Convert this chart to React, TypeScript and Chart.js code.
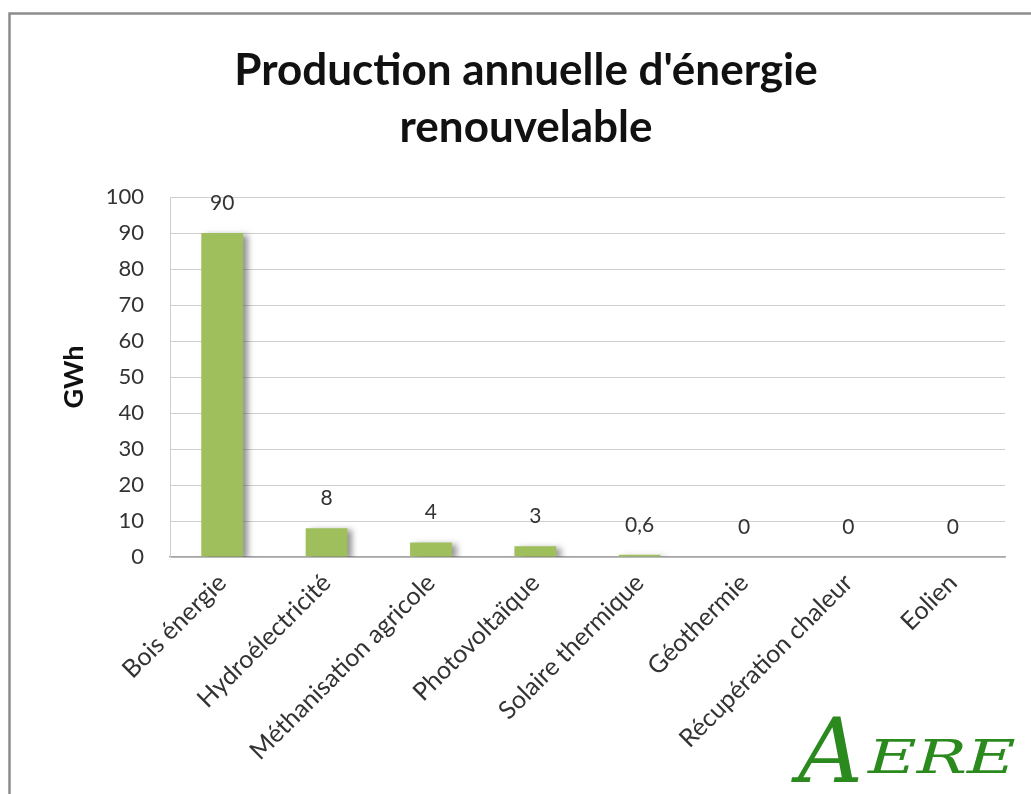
import React, { useEffect, useRef } from "react";
import { Chart, registerables } from "chart.js";

Chart.register(...registerables);

const categories = [
  "Bois énergie",
  "Hydroélectricité",
  "Méthanisation agricole",
  "Photovoltaïque",
  "Solaire thermique",
  "Géothermie",
  "Récupération chaleur",
  "Eolien",
];
const values = [90, 8, 4, 3, 0.6, 0, 0, 0];
const valueLabels = ["90", "8", "4", "3", "0,6", "0", "0", "0"];
const yTicks = [0, 10, 20, 30, 40, 50, 60, 70, 80, 90, 100];
const titleLines = ["Production annuelle d'énergie", "renouvelable"];
const yTitle = "GWh";
const logoBig = "A";
const logoSmall = "ERE";

const FONT = "Lato, 'Open Sans', sans-serif";

export default function App() {
  const ref = useRef<HTMLCanvasElement | null>(null);

  useEffect(() => {
    if (!ref.current) return;

    const decor = {
      id: "decor",
      beforeDraw(chart: any) {
        const ctx = chart.ctx;
        ctx.save();
        ctx.strokeStyle = "#8c8c8c";
        ctx.lineWidth = 2.5;
        ctx.beginPath();
        ctx.moveTo(9.5, 800);
        ctx.lineTo(9.5, 13.5);
        ctx.lineTo(1040, 13.5);
        ctx.stroke();
        ctx.fillStyle = "#111";
        ctx.font = `bold 44px ${FONT}`;
        ctx.textAlign = "center";
        ctx.textBaseline = "alphabetic";
        ctx.fillText(titleLines[0], 526, 85);
        ctx.fillText(titleLines[1], 526, 142);
        ctx.restore();
      },
      afterDraw(chart: any) {
        const ctx = chart.ctx;
        ctx.save();
        ctx.fillStyle = "#2b8a1e";
        ctx.textBaseline = "alphabetic";
        ctx.textAlign = "left";
        ctx.font = `italic 90px 'DejaVu Serif', serif`;
        ctx.fillText(logoBig, 798, 782);
        ctx.translate(868, 773);
        ctx.scale(1.45, 1);
        ctx.font = `italic 46px 'DejaVu Serif', serif`;
        ctx.fillText(logoSmall, 0, 0);
        ctx.restore();
      },
    };

    const shadow = {
      id: "barShadow",
      beforeDatasetDraw(chart: any) {
        const ctx = chart.ctx;
        ctx.save();
        ctx.shadowColor = "rgba(60,60,60,0.55)";
        ctx.shadowBlur = 6;
        ctx.shadowOffsetX = 5;
        ctx.shadowOffsetY = 2;
      },
      afterDatasetDraw(chart: any) {
        chart.ctx.restore();
      },
    };

    const dataLabels = {
      id: "dataLabels",
      afterDatasetsDraw(chart: any) {
        const ctx = chart.ctx;
        const meta = chart.getDatasetMeta(0);
        ctx.save();
        ctx.fillStyle = "#333";
        ctx.font = `21px ${FONT}`;
        ctx.textAlign = "center";
        ctx.textBaseline = "middle";
        meta.data.forEach((bar: any, i: number) => {
          ctx.fillText(valueLabels[i], bar.x, bar.y - 30);
        });
        ctx.restore();
      },
    };

    const chart = new Chart(ref.current, {
      type: "bar",
      data: {
        labels: categories,
        datasets: [
          {
            data: values,
            backgroundColor: "#9fbf5d",
            borderWidth: 0,
            barPercentage: 0.4,
            categoryPercentage: 1,
          },
        ],
      },
      options: {
        animation: false,
        responsive: false,
        maintainAspectRatio: false,
        layout: { padding: { left: 58, right: 26, top: 197, bottom: 0 } },
        plugins: {
          legend: { display: false },
          title: { display: false },
          tooltip: { enabled: false },
        },
        scales: {
          x: {
            grid: { display: false, drawTicks: false },
            border: { display: true, color: "#a6a6a6", width: 1.5 },
            ticks: {
              autoSkip: false,
              maxRotation: 45,
              minRotation: 45,
              color: "#333",
              font: { family: FONT, size: 25 },
              padding: 11,
            },
            afterFit(scale: any) {
              scale.height = 237;
            },
          },
          y: {
            min: 0,
            max: 100,
            afterBuildTicks(scale: any) {
              scale.ticks = yTicks.map((v) => ({ value: v }));
            },
            grid: { color: "#cfcfcf", lineWidth: 1, drawTicks: false },
            border: { display: true, color: "#cfcfcf" },
            ticks: {
              color: "#333",
              font: { family: FONT, size: 22 },
              padding: 26,
            },
            title: {
              display: true,
              text: yTitle,
              color: "#111",
              font: { family: FONT, size: 27, weight: "bold" },
              padding: { top: 0, bottom: 0 },
            },
            afterFit(scale: any) {
              scale.width = 112;
            },
          },
        },
      },
      plugins: [decor, shadow, dataLabels],
    });

    return () => chart.destroy();
  }, []);

  return (
    <div style={{ position: "absolute", left: 0, top: 0, width: 1031, height: 794, background: "#fff" }}>
      <canvas ref={ref} width={1031} height={794} style={{ display: "block", width: 1031, height: 794 }} />
    </div>
  );
}
